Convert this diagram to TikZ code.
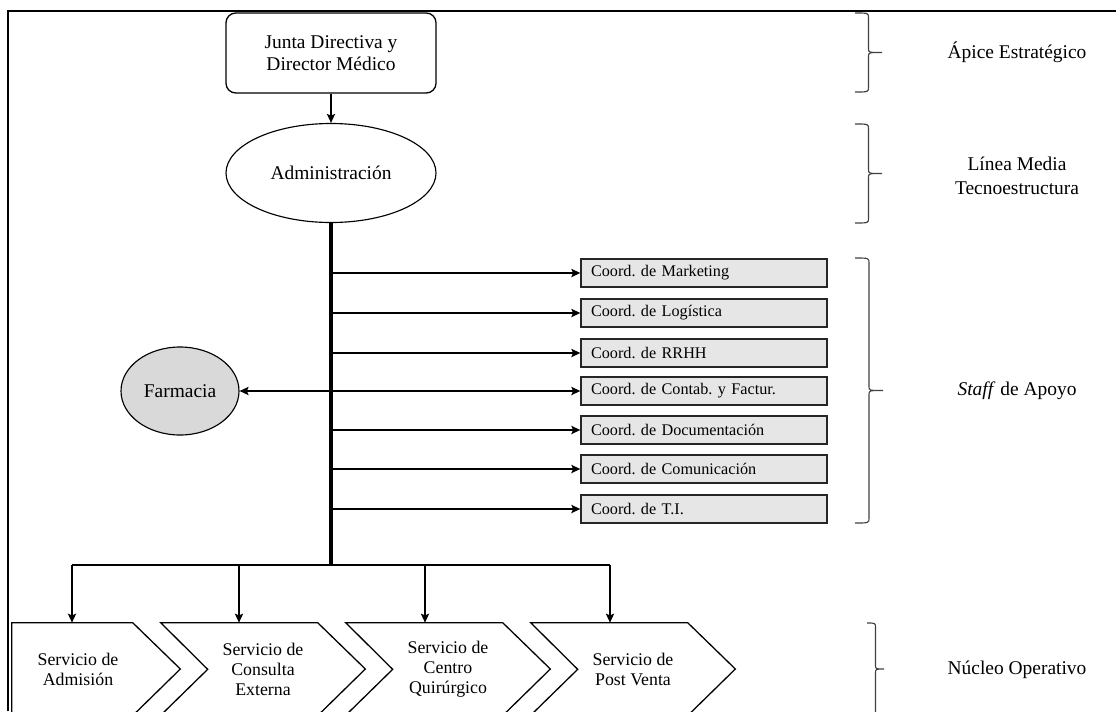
\documentclass[tikz,border=0pt]{standalone}
\usepackage{fontspec}
\setmainfont{Liberation Serif}
\usepackage{xcolor}
\definecolor{staffgray}{RGB}{230, 230, 230}
\definecolor{farmgray}{RGB}{217, 217, 217}
\usepackage{tikz}
\usetikzlibrary{
    shapes.geometric,
    arrows.meta,
    calc
}
\newcommand{\px}{0.617pt}
\frenchspacing

\begin{document}
\begin{tikzpicture}[
    x=\px, y=-\px,
    >={Stealth[length=5.5pt, width=5pt, inset=1pt]},
    junta/.style={draw, line width=0.8pt, rounded corners=6pt, minimum width=210*\px, minimum height=80*\px, inner sep=0pt, align=center, font=\fontsize{12}{13.8}\selectfont},
    oval/.style={ellipse, draw, line width=0.7pt, inner sep=0pt, align=center, font=\fontsize{12}{13.8}\selectfont},
    staffbox/.style={draw=black!85, line width=0.8pt, fill=staffgray, minimum width=246*\px, minimum height=28*\px, text width=226*\px, inner xsep=10*\px, inner ysep=0pt, align=left, font=\fontsize{10}{12}\selectfont},
    chev/.style={minimum width=204*\px, minimum height=92*\px, inner sep=0pt, align=center, font=\fontsize{11}{12.3}\selectfont},
    chevline/.style={draw, line width=0.8pt},
    layer/.style={align=center, font=\fontsize{12}{15}\selectfont},
    brace/.style={draw=black!75, line width=0.7pt},
    arr/.style={->, line width=1.2pt},
    trunk/.style={line width=1.9pt},
    bar/.style={line width=1.5pt}
]
\useasboundingbox (0,0) rectangle (1116,711);
\clip (0,0) rectangle (1116,711);

% ==================== FRAME ====================
\draw[line width=1.2pt] (8,711) -- (8,11) -- (1116,11);

% ==================== APEX AND MIDDLE LINE ====================
\node[junta] (junta) at (331,53) {Junta Directiva y\\Director Médico};
\node[oval, minimum width=210*\px, minimum height=99*\px] (admin) at (331,173) {Administración};

\draw[arr] (junta) -- (admin);

% ==================== SUPPORT STAFF ====================
\node[staffbox] (mkt)  at (704,273) {Coord. de Marketing};
\node[staffbox] (log)  at (704,313) {Coord. de Logística};
\node[staffbox] (rrhh) at (704,353) {Coord. de RRHH};
\node[staffbox] (cont) at (704,391) {Coord. de Contab. y Factur.};
\node[staffbox] (doc)  at (704,430) {Coord. de Documentación};
\node[staffbox] (com)  at (704,469) {Coord. de Comunicación};
\node[staffbox] (ti)   at (704,509) {Coord. de T.I.};

\node[oval, fill=farmgray, minimum width=118*\px, minimum height=88*\px] (farm) at (180,391) {Farmacia};

\coordinate (split) at (331,565);
\draw[trunk] (admin.south) -- (split);

\foreach \c in {mkt, log, rrhh, cont, doc, com, ti}
    \draw[arr] (admin |- \c) -- (\c);
\draw[arr] (admin |- cont) -- (farm);

% ==================== OPERATING CORE ====================
\node[chev] (srv1) at (78,669)  {Servicio de\\Admisión};
\node[chev] (srv2) at (263,669) {Servicio de\\Consulta\\Externa};
\node[chev] (srv3) at (448,669) {Servicio de\\Centro\\Quirúrgico};
\node[chev] (srv4) at (633,669) {Servicio de\\Post Venta};

\draw[chevline] ($(srv1.north west)+(36,0)$) -- ++(121,0) -- (srv1.east) -- ++(-47,46) -- ($(srv1.south west)+(36,0)$) -- cycle;
\foreach \s in {srv2, srv3, srv4}
    \draw[chevline] (\s.north west) -- ++(157,0) -- (\s.east) -- ++(-47,46) -- (\s.south west) -- ++(47,-46) -- cycle;

\coordinate (b1) at (72,565);
\coordinate (b2) at (239,565);
\coordinate (b3) at (425,565);
\coordinate (b4) at (610,565);
\draw[bar] (b1) -- (b4);
\draw[arr] (b1) -- (b1 |- srv1.north);
\draw[arr] (b2) -- (b2 |- srv2.north);
\draw[arr] (b3) -- (b3 |- srv3.north);
\draw[arr] (b4) -- (b4 |- srv4.north);

% ==================== LAYERS ====================
\node[layer] (apice)  at (1017,52)  {Ápice Estratégico};
\node[layer] (media)  at (1017,176) {Línea Media\\Tecnoestructura};
\node[layer] (staff)  at (1017,391) {\textit{Staff} de Apoyo};
\node[layer] (nucleo) at (1017,670) {Núcleo Operativo};

% braces: left end x / top / bottom / half depth
\foreach \xa/\ya/\yb/\h in {855/13/92/13.5, 855/124/223/13.5, 855/258/523/14, 867/623/715/8.5} {
    \pgfmathsetmacro{\ym}{(\ya+\yb)/2}
    \draw[brace] (\xa,\ya) .. controls (\xa+\h,\ya) .. (\xa+\h,\ya+5)
        -- (\xa+\h,\ym-4) .. controls (\xa+\h,\ym) .. (\xa+2*\h,\ym)
        .. controls (\xa+\h,\ym) .. (\xa+\h,\ym+4)
        -- (\xa+\h,\yb-5) .. controls (\xa+\h,\yb) .. (\xa,\yb);
}

\end{tikzpicture}
\end{document}
